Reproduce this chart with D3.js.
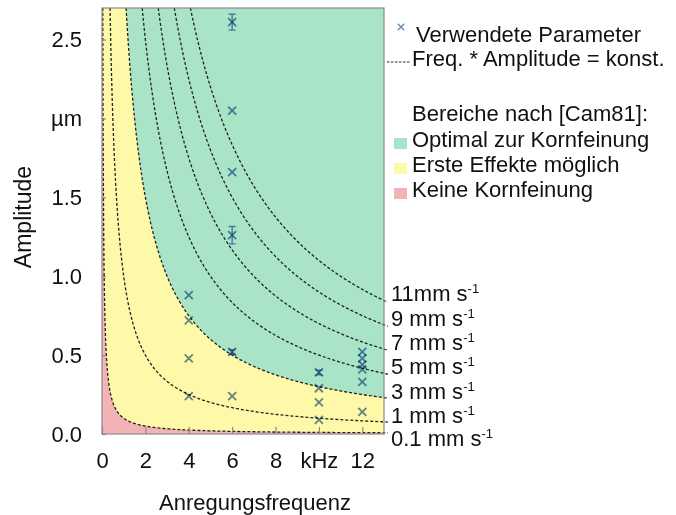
<!DOCTYPE html>
<html>
<head>
<meta charset="utf-8">
<script src="https://cdn.jsdelivr.net/npm/d3@7"></script>
<style>
  html, body { margin: 0; padding: 0; background: #fff; }
  svg { display: block; font-family: "Liberation Sans", Arial, sans-serif; }
  .marker { mix-blend-mode: multiply; }
</style>
</head>
<body>
<svg id="chart" width="676" height="515"></svg>
<script>
// Excitation frequency (kHz) and amplitude (µm) of the parameter sets used
const freqs = [6, 6, 6, 6, 4, 4, 4, 4, 6, 6, 10, 10, 10, 10, 12, 12, 12, 12, 12, 12];
const amps  = [2.61, 2.05, 1.66, 1.26, 0.88, 0.72, 0.48, 0.24, 0.52, 0.24, 0.39, 0.29, 0.20, 0.09, 0.52, 0.48, 0.44, 0.41, 0.33, 0.14];
const ampErr = [0.05, 0, 0, 0.055, 0, 0, 0, 0, 0.015, 0, 0.015, 0, 0, 0, 0, 0, 0, 0, 0, 0];

// Iso-velocity curves: frequency * amplitude = constant (mm/s)
const velocities = [0.1, 1, 3, 5, 7, 9, 11];
const velocityLabels = ["0.1 mm s", "1 mm s", "3 mm s", "5 mm s", "7 mm s", "9 mm s", "11mm s"];

// Region limits after [Cam81] (mm/s)
const regionLimits = [0.1, 3];
const regionColors = ["#f2b3b6", "#fdf9a8", "#a9e4c7"];
const regionNames = ["Keine Kornfeinung", "Erste Effekte möglich", "Optimal zur Kornfeinung"];

// Axis ticks
const xTickVals = [0, 2, 4, 6, 8, 10, 12];
const xTickLabels = ["0", "2", "4", "6", "8", "kHz", "12"];
const yTickVals = [0, 0.5, 1, 1.5, 2, 2.5];
const yTickLabels = ["0.0", "0.5", "1.0", "1.5", "µm", "2.5"];

const FONT = 22;
const markerColor = "#6388bf";

const svg = d3.select("#chart");
const plot = { left: 102, right: 384, top: 8, bottom: 434 };
const xMax = 13, yMax = 2.7;

const x = d3.scaleLinear().domain([0, xMax]).range([plot.left, plot.right]);
const y = d3.scaleLinear().domain([0, yMax]).range([plot.bottom, plot.top]);

const line = d3.line().x(d => x(d[0])).y(d => y(d[1]));

// Sample a hyperbola A = v / f from the top edge to fEnd (log-spaced in f)
function hyperbola(v, fEnd) {
  const f0 = v / yMax;
  const pts = [];
  const n = 300;
  for (let i = 0; i <= n; i++) {
    const t = i / n;
    const f = f0 * Math.pow(fEnd / f0, t);
    pts.push([f, v / f]);
  }
  return pts;
}

// Regions: yellow background, pink below the lower limit, green above the upper limit
svg.append("rect")
  .attr("x", x(0)).attr("y", y(yMax))
  .attr("width", x(xMax) - x(0)).attr("height", y(0) - y(yMax))
  .attr("fill", regionColors[1]);

const lowCurve = hyperbola(regionLimits[0], xMax);
svg.append("path")
  .attr("d", line([[0, 0], [0, yMax]].concat(lowCurve).concat([[xMax, 0]])) + "Z")
  .attr("fill", regionColors[0]);

const highCurve = hyperbola(regionLimits[1], xMax);
svg.append("path")
  .attr("d", line(highCurve.concat([[xMax, yMax]])) + "Z")
  .attr("fill", regionColors[2]);

// Iso-velocity dashed curves, running slightly past the frame towards their labels
const fEndCurve = 13.18;
svg.append("g")
  .selectAll("path")
  .data(velocities)
  .join("path")
  .attr("d", v => line(hyperbola(v, fEndCurve)))
  .attr("fill", "none")
  .attr("stroke", "#222")
  .attr("stroke-width", 1.3)
  .attr("stroke-dasharray", "3,2");

// Frame
svg.append("rect")
  .attr("x", plot.left).attr("y", plot.top)
  .attr("width", plot.right - plot.left).attr("height", plot.bottom - plot.top)
  .attr("fill", "none")
  .attr("stroke", "#8e8787")
  .attr("stroke-width", 1.2);

// Axes with inward ticks
const xAxis = d3.axisBottom(x)
  .tickValues(xTickVals)
  .tickFormat((d, i) => xTickLabels[i])
  .tickSize(-7)
  .tickPadding(18);
const gx = svg.append("g").attr("transform", `translate(0,${plot.bottom})`).call(xAxis);

const yAxis = d3.axisLeft(y)
  .tickValues(yTickVals)
  .tickFormat((d, i) => yTickLabels[i])
  .tickSize(-4)
  .tickPadding(20);
const gy = svg.append("g").attr("transform", `translate(${plot.left},0)`).call(yAxis);

[gx, gy].forEach(g => {
  g.select(".domain").remove();
  g.selectAll(".tick line").attr("stroke", "#8e8787").attr("stroke-width", 1.2);
  g.selectAll(".tick text")
    .attr("font-size", FONT)
    .attr("font-family", "'Liberation Sans', Arial, sans-serif")
    .attr("fill", "#111");
});

// Axis titles
svg.append("text")
  .attr("x", 255).attr("y", 510)
  .attr("text-anchor", "middle")
  .attr("font-size", FONT)
  .attr("fill", "#111")
  .text("Anregungsfrequenz");

svg.append("text")
  .attr("transform", "translate(31,217) rotate(-90)")
  .attr("text-anchor", "middle")
  .attr("font-size", 23)
  .attr("fill", "#111")
  .text("Amplitude");

// Velocity labels at the right end of the curves, kept apart from each other
let prev = -Infinity;
const labelBase = velocities.slice().reverse().map(v => {
  let b = y(v / xMax) + 1;
  if (b < prev + 23) b = prev + 23;
  prev = b;
  return { v, b };
});
const lab = svg.append("g")
  .selectAll("text")
  .data(labelBase)
  .join("text")
  .attr("x", plot.right + 7)
  .attr("y", d => d.b)
  .attr("font-size", FONT)
  .attr("fill", "#111");
lab.append("tspan").text(d => velocityLabels[velocities.indexOf(d.v)]);
lab.append("tspan")
  .attr("dy", -8)
  .attr("font-size", 13)
  .text("-1");

// Error bars
const errG = svg.append("g").attr("class", "marker");
freqs.forEach((f, i) => {
  if (!ampErr[i]) return;
  const cx = x(f), y1 = y(amps[i] - ampErr[i]), y2 = y(amps[i] + ampErr[i]);
  errG.append("path")
    .attr("d", `M${cx},${y1}V${y2}M${cx - 3.5},${y1}H${cx + 3.5}M${cx - 3.5},${y2}H${cx + 3.5}`)
    .attr("fill", "none")
    .attr("stroke", markerColor)
    .attr("stroke-width", 1.4);
});

// Cross markers
const s = 4;
svg.append("g")
  .selectAll("path")
  .data(freqs.map((f, i) => [f, amps[i]]))
  .join("path")
  .attr("class", "marker")
  .attr("d", d => {
    const cx = x(d[0]), cy = y(d[1]);
    return `M${cx - s},${cy - s}L${cx + s},${cy + s}M${cx - s},${cy + s}L${cx + s},${cy - s}`;
  })
  .attr("fill", "none")
  .attr("stroke", markerColor)
  .attr("stroke-width", 1.8);

// Legend
const lg = svg.append("g").attr("font-size", FONT).attr("fill", "#111");
const lx = 412;
const ls = 3.2;
lg.append("path")
  .attr("d", `M${401 - ls},${27 - ls}L${401 + ls},${27 + ls}M${401 - ls},${27 + ls}L${401 + ls},${27 - ls}`)
  .attr("stroke", markerColor)
  .attr("stroke-width", 1.3)
  .attr("fill", "none");
lg.append("text").attr("x", lx + 4).attr("y", 42).text("Verwendete Parameter");

lg.append("line")
  .attr("x1", 387).attr("x2", 410).attr("y1", 62).attr("y2", 62)
  .attr("stroke", "#222").attr("stroke-width", 1.2)
  .attr("stroke-dasharray", "2.5,1.5");
lg.append("text").attr("x", lx).attr("y", 66).text("Freq. * Amplitude = konst.");

lg.append("text").attr("x", lx).attr("y", 121).text("Bereiche nach [Cam81]:");

const regionOrder = [2, 1, 0];
regionOrder.forEach((r, k) => {
  const base = 147 + k * 25;
  lg.append("rect")
    .attr("x", 394).attr("y", base - 9)
    .attr("width", 13).attr("height", 11)
    .attr("fill", regionColors[r]);
  lg.append("text").attr("x", lx).attr("y", base).text(regionNames[r]);
});
</script>
</body>
</html>
